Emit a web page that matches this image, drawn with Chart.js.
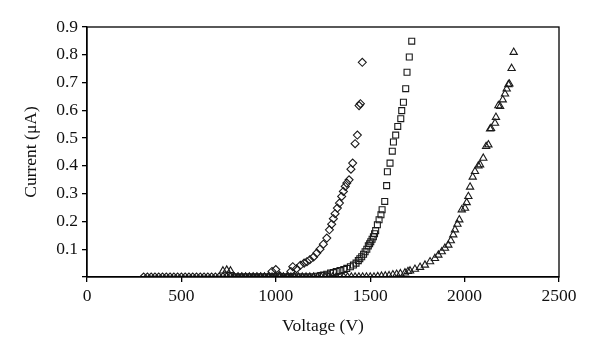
<!DOCTYPE html>
<html>
<head>
<meta charset="utf-8">
<script src="https://cdn.jsdelivr.net/npm/chart.js@4/dist/chart.umd.min.js"></script>
<style>
html,body{margin:0;padding:0;background:#fff;}
#wrap{width:600px;height:357px;position:relative;}
</style>
</head>
<body>
<div id="wrap"><canvas id="c" width="600" height="357"></canvas></div>
<script>
// Series 1 (diamonds)
const diamondV = [300,320,340,360,380,400,420,440,460,480,500,520,540,560,580,600,620,640,660,680,700,720,740,760,780,800,820,840,860,880,900,920,940,960,980,1000,1020,1040,1060,1080,1090,1110,1130,1150,1165,1180,1200,1217,1234,1252,1270,1284,1296,1305,1314,1326,1337,1349,1358,1368,1376,1388,1398,1407,1420,1432,1441,1448,1458];
const diamondI = [0,0,0,0,0,0,0,0,0,0,0,0,0,0,0,0,0,0,0,0,0,0,0,0,0,0,0,0,0,0,0,0,0,0,0.02,0.027,0.005,0,0,0.02,0.037,0.03,0.042,0.05,0.055,0.062,0.072,0.086,0.1,0.118,0.14,0.17,0.19,0.21,0.228,0.248,0.266,0.29,0.308,0.326,0.338,0.35,0.388,0.41,0.48,0.511,0.617,0.624,0.773];
// Series 2 (squares)
const squareV = [760,780,800,820,840,860,880,900,920,940,960,980,1000,1020,1040,1060,1080,1100,1120,1140,1160,1180,1200,1220,1240,1252,1270,1290,1305,1320,1340,1360,1376,1395,1411,1425,1437,1445,1455,1465,1473,1482,1490,1497,1503,1510,1517,1523,1529,1538,1547,1557,1563,1577,1587,1591,1605,1617,1623,1635,1646,1662,1667,1676,1688,1695,1707,1720];
const squareI = [0.005,0,0,0,0,0,0,0,0,0,0,0,0,0,0,0,0,0,0,0,0,0,0,0.003,0.005,0.007,0.01,0.014,0.016,0.02,0.023,0.027,0.031,0.037,0.043,0.05,0.059,0.066,0.073,0.082,0.091,0.1,0.112,0.12,0.127,0.136,0.145,0.156,0.167,0.188,0.206,0.224,0.242,0.272,0.329,0.379,0.41,0.453,0.486,0.511,0.542,0.57,0.599,0.629,0.678,0.737,0.792,0.849];
// Series 3 (triangles)
const triangleV = [720,740,760,780,800,820,840,860,880,900,920,940,960,980,1000,1020,1040,1060,1080,1100,1120,1140,1160,1180,1200,1220,1240,1260,1280,1300,1320,1340,1360,1380,1400,1420,1440,1460,1480,1500,1520,1540,1560,1580,1600,1620,1640,1660,1684,1700,1711,1737,1764,1790,1817,1843,1861,1879,1896,1914,1927,1940,1949,1962,1972,1985,2002,2011,2020,2029,2043,2055,2073,2082,2099,2114,2126,2135,2140,2161,2166,2179,2188,2202,2214,2223,2232,2237,2249,2260];
const triangleI = [0.022,0.025,0.022,0,0,0,0,0,0,0,0,0,0,0,0,0,0,0,0,0,0,0,0,0,0,0,0,0,0,0,0,0,0,0,0,0,0,0,0,0,0,0.002,0.003,0.004,0.005,0.008,0.01,0.012,0.015,0.02,0.022,0.028,0.035,0.043,0.055,0.067,0.079,0.091,0.104,0.115,0.131,0.152,0.17,0.19,0.206,0.242,0.248,0.268,0.29,0.324,0.36,0.38,0.4,0.404,0.428,0.47,0.476,0.533,0.535,0.554,0.575,0.617,0.614,0.638,0.659,0.677,0.693,0.695,0.751,0.809];

const xTicks = [0,500,1000,1500,2000,2500];
const yTicks = [0,0.1,0.2,0.3,0.4,0.5,0.6,0.7,0.8,0.9];

function pts(xs, ys){ return xs.map((x,i)=>({x:x, y:ys[i]})); }

const FONT = "'Liberation Serif', 'DejaVu Serif', serif";
const FS = 17.5;

const frame = {
  id:'frame',
  afterDraw(chart){
    const a = chart.chartArea, ctx = chart.ctx;
    ctx.save();
    ctx.strokeStyle = '#000';
    ctx.lineWidth = 1.3;
    ctx.strokeRect(a.left, a.top, a.right - a.left, a.bottom - a.top);
    ctx.restore();
  }
};

const common = {showLine:false, borderColor:'#1a1a1a', backgroundColor:'rgba(255,255,255,0)', borderWidth:1.1, pointHoverRadius:4};

new Chart(document.getElementById('c'), {
  type:'scatter',
  data:{datasets:[
    Object.assign({label:'Series 1', data:pts(diamondV, diamondI), pointStyle:'rectRot', pointRadius:4}, common),
    Object.assign({label:'Series 2', data:pts(squareV, squareI), pointStyle:'rect', pointRadius:4.2}, common),
    Object.assign({label:'Series 3', data:pts(triangleV, triangleI), pointStyle:'triangle', pointRadius:4.2}, common)
  ]},
  options:{
    responsive:false,
    animation:false,
    layout:{padding:{left:0, right:41, top:27, bottom:20}},
    plugins:{legend:{display:false}, tooltip:{enabled:false}},
    scales:{
      x:{
        type:'linear', min:0, max:2500,
        afterBuildTicks(s){ s.ticks = xTicks.map(v=>({value:v})); },
        afterFit(s){ s.height = 60; },
        ticks:{color:'#111', font:{family:FONT, size:FS}, padding:4, maxRotation:0,
          callback:(v)=> String(v)},
        grid:{drawOnChartArea:false, drawTicks:true, tickLength:5, color:'#000', lineWidth:1.3},
        border:{display:true, color:'#000', width:1.3},
        title:{display:true, text:'Voltage (V)', color:'#111', font:{family:FONT, size:FS}, padding:{top:4, bottom:0}}
      },
      y:{
        type:'linear', min:0, max:0.9,
        afterBuildTicks(s){ s.ticks = yTicks.map(v=>({value:v})); },
        afterFit(s){ s.width = 87; },
        ticks:{color:'#111', font:{family:FONT, size:FS}, padding:4,
          callback:(v)=> v === 0 ? '' : v.toFixed(1)},
        grid:{drawOnChartArea:false, drawTicks:true, tickLength:5, color:'#000', lineWidth:1.3},
        border:{display:true, color:'#000', width:1.3},
        title:{display:true, text:'Current (μA)', color:'#111', font:{family:FONT, size:FS}, padding:{top:21, bottom:0}}
      }
    }
  },
  plugins:[frame]
});
</script>
</body>
</html>
